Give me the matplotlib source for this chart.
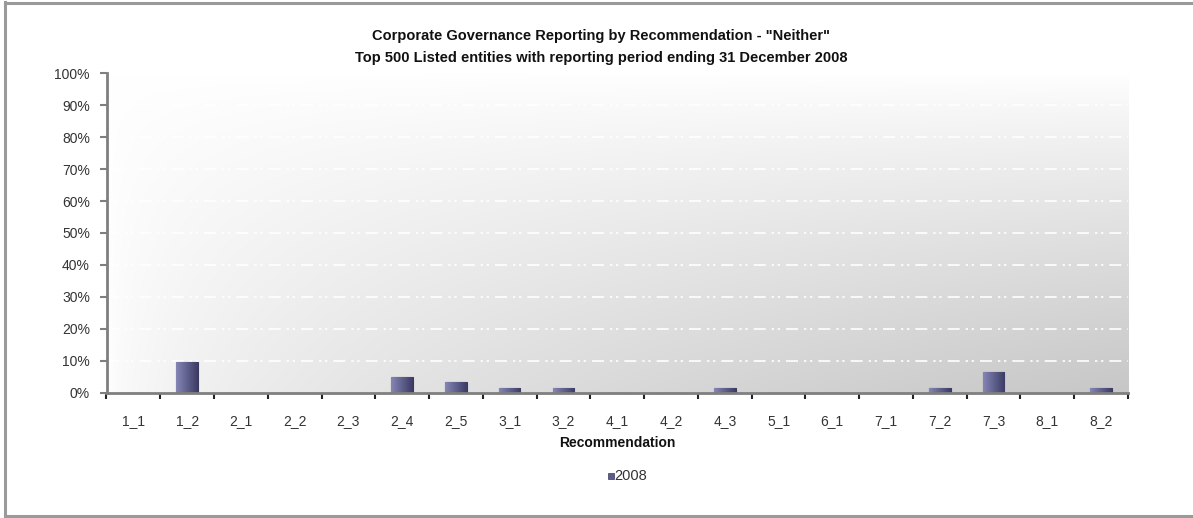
import numpy as np
import matplotlib
matplotlib.use("Agg")
import matplotlib.pyplot as plt
from matplotlib import font_manager
from matplotlib.lines import Line2D
from matplotlib.ticker import FixedLocator, PercentFormatter

# Data
categories = ["1_1", "1_2", "2_1", "2_2", "2_3", "2_4", "2_5", "3_1", "3_2", "4_1",
              "4_2", "4_3", "5_1", "6_1", "7_1", "7_2", "7_3", "8_1", "8_2"]
values_2008 = [0.0, 9.6, 0.0, 0.0, 0.0, 4.8, 3.2, 1.6, 1.6, 0.0,
               0.0, 1.6, 0.0, 0.0, 0.0, 1.6, 6.4, 0.0, 1.6]
series_name = "2008"
title_lines = ['Corporate Governance Reporting by Recommendation - "Neither"',
               "Top 500 Listed entities with reporting period ending 31 December 2008"]
x_label = "Recommendation"
y_ticks = list(range(0, 101, 10))

installed = {f.name for f in font_manager.fontManager.ttflist}
narrow = "Liberation Sans Narrow" in installed
base_font = "Liberation Sans Narrow" if narrow else "Liberation Sans"
plt.rcParams["font.family"] = [base_font, "DejaVu Sans"]

W, H = 1193, 518
fig = plt.figure(figsize=(W / 100, H / 100), dpi=100)
fig.patch.set_facecolor("white")

# outer chart frame
frame_col = "#9a9a9a"
fig.add_artist(Line2D([5 / W, 5 / W], [2 / H, 1 - 2 / H], color=frame_col, lw=2.2))
fig.add_artist(Line2D([5 / W, 1.0], [1 - 2.5 / H, 1 - 2.5 / H], color=frame_col, lw=2.2))
fig.add_artist(Line2D([5 / W, 1.0], [2 / H, 2 / H], color=frame_col, lw=2.2))

left, right = 106.5 / W, 1128 / W
bottom, top = (H - 392.7) / H, (H - 73.3) / H
ax = fig.add_axes([left, bottom, right - left, top - bottom])
ax.set_facecolor("none")

n = len(categories)
x = np.arange(n)

# plot-area shading: white at the top-left, grey toward the bottom-right
u = np.linspace(0, 1, 400)[None, :]
v = np.linspace(1, 0, 300)[:, None]
shade = 1 - 0.22 * (u ** 0.55) * ((1 - v) ** 0.85)
shade = np.clip(shade, 0, 1)
ax.imshow(np.dstack([shade, shade, shade]), extent=[0, 1, 0, 1], transform=ax.transAxes,
          aspect="auto", zorder=0, interpolation="bilinear")

# white dash-dot-dot gridlines
for yv in y_ticks[1:-1]:
    ax.axhline(yv, color="white", lw=1.2, dashes=(7.2, 3.6, 1.4, 2.2, 1.4, 3.6), zorder=1)

# bars with a left-to-right shading
bars = ax.bar(x, values_2008, width=0.4, color="#5b5b8c", edgecolor="#3a3a5c",
              linewidth=0.8, zorder=3)
grad = np.linspace(0, 1, 64)[None, :]
cmap = matplotlib.colors.LinearSegmentedColormap.from_list("barshade", ["#8686b6", "#3c3c66"])
for b in bars:
    h = b.get_height()
    if h <= 0:
        continue
    x0 = b.get_x()
    img = ax.imshow(grad, extent=[x0, x0 + b.get_width(), 0, h], cmap=cmap,
                    aspect="auto", zorder=3.5, interpolation="bilinear")
    img.set_clip_path(b)
ax.set_xlim(-0.5, n - 0.5)
ax.set_ylim(0, 100)

# axes styling
for s in ("top", "right"):
    ax.spines[s].set_visible(False)
for s in ("left", "bottom"):
    ax.spines[s].set_color("#7f7f7f")
    ax.spines[s].set_linewidth(2.0)
    ax.spines[s].set_zorder(4)

ax.yaxis.set_major_locator(FixedLocator(y_ticks))
ax.yaxis.set_major_formatter(PercentFormatter(decimals=0))
ax.tick_params(axis="y", direction="out", length=5, width=1.5, color="#7f7f7f",
               labelsize=10, labelcolor="#333333", pad=7)

ax.set_xticks(x)
ax.set_xticklabels(categories)
ax.tick_params(axis="x", which="major", length=0, labelsize=10, labelcolor="#333333", pad=15)
ax.xaxis.set_minor_locator(FixedLocator(np.arange(-0.5, n, 1.0)))
ax.tick_params(axis="x", which="minor", direction="out", length=4, width=1.5, color="#222222")

ax.set_xlabel(x_label, fontsize=10, fontweight="bold", color="#111111", labelpad=6)

# title
fig.text(601 / W, 1 - 36 / H, title_lines[0], ha="center", va="center",
         fontsize=10.5, fontweight="bold", color="#111111")
fig.text(601 / W, 1 - 58 / H, title_lines[1], ha="center", va="center",
         fontsize=10.5, fontweight="bold", color="#111111")

# legend
fig.add_artist(matplotlib.patches.Rectangle((607.5 / W, 1 - 478.5 / H), 6 / W, 6 / H,
                                            transform=fig.transFigure,
                                            facecolor="#5b5b8c", edgecolor="#3a3a5c", lw=0.5))
fig.text(614 / W, 1 - 476 / H, series_name, ha="left", va="center", fontsize=10.5,
         color="#333333")

fig.savefig("out.png", dpi=100, facecolor="white")
